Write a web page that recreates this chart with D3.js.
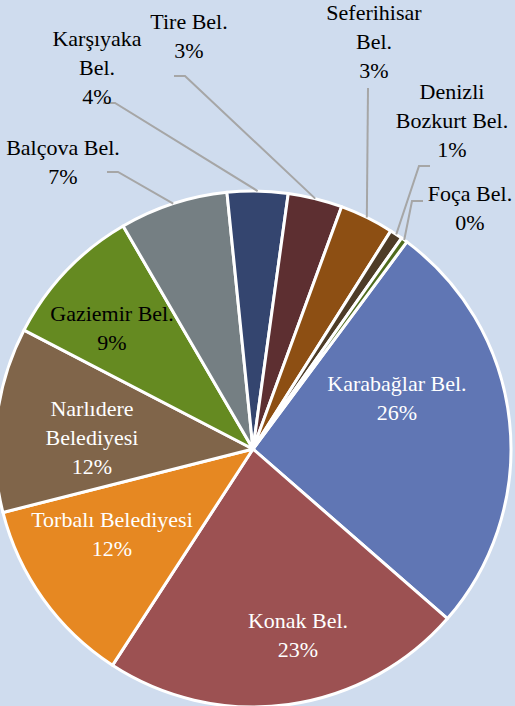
<!DOCTYPE html>
<html>
<head>
<meta charset="utf-8">
<script src="https://cdn.jsdelivr.net/npm/d3@7"></script>
<style>
  html, body { margin: 0; padding: 0; background: #cfdcee; }
  svg { display: block; }
  svg text { font-family: "Liberation Serif", "Times New Roman", serif; font-size: 22px; }
</style>
</head>
<body>
<svg id="chart" width="515" height="706"></svg>
<script>
// ---- data ----
const categories = ["Karabağlar Bel.", "Konak Bel.", "Torbalı Belediyesi", "Narlıdere Belediyesi",
  "Gaziemir Bel.", "Balçova Bel.", "Karşıyaka Bel.", "Tire Bel.", "Seferihisar Bel.",
  "Denizli Bozkurt Bel.", "Foça Bel."];
const values = [26.3, 22.8, 11.9, 11.6, 9.0, 6.8, 3.8, 3.4, 3.4, 0.8, 0.4];
const colors = ["#6076b4", "#9c5152", "#e68822", "#80654a", "#658a21", "#757f83",
  "#34456f", "#5d2f31", "#8d4f13", "#4e3c27", "#4f6b1d"];

// ---- layout (positions only) ----
const W = 515, H = 706;
const cx = 253, cy = 449, R = 258;
const startDeg = 36.6;
const lineH = 29;
// per-slice label layout: text x, first baseline y, wrap split index, fill, leader elbow points
const labelLayout = [
  { x: 397, y: 391, split: null, fill: "#ffffff", leader: null },
  { x: 298, y: 628, split: null, fill: "#ffffff", leader: null },
  { x: 112, y: 527, split: null, fill: "#ffffff", leader: null },
  { x: 92,  y: 416, split: 1,    fill: "#ffffff", leader: null },
  { x: 112, y: 321, split: null, fill: "#000000", leader: null },
  { x: 63,  y: 155, split: null, fill: "#000000", leader: [[107, 172], [118, 172]] },
  { x: 97,  y: 46,  split: 1,    fill: "#000000", leader: [[103, 103], [115, 103]] },
  { x: 189, y: 29,  split: null, fill: "#000000", leader: [[174, 76], [185, 76]] },
  { x: 374, y: 20,  split: 1,    fill: "#000000", leader: [[368, 88]] },
  { x: 452, y: 99,  split: 1,    fill: "#000000", leader: [[430, 166], [419, 166]] },
  { x: 470, y: 201, split: null, fill: "#000000", leader: [[423, 201], [412, 201]] }
];

const svg = d3.select("#chart");
svg.append("rect").attr("width", W).attr("height", H).attr("fill", "#cfdcee");

const total = d3.sum(values);
const start = startDeg * Math.PI / 180;
const pie = d3.pie().sort(null).value(d => d).startAngle(start).endAngle(start + 2 * Math.PI);
const arcs = pie(values);
const arc = d3.arc().innerRadius(0).outerRadius(R);

const g = svg.append("g").attr("transform", `translate(${cx},${cy})`);
g.selectAll("path.slice").data(arcs).join("path")
  .attr("class", "slice")
  .attr("d", arc)
  .attr("fill", (d, i) => colors[i])
  .attr("stroke", "#ffffff")
  .attr("stroke-width", 3)
  .attr("stroke-linejoin", "round");

// leader lines
arcs.forEach((d, i) => {
  const L = labelLayout[i];
  if (!L.leader) return;
  const mid = (d.startAngle + d.endAngle) / 2;
  const ex = cx + R * Math.sin(mid), ey = cy - R * Math.cos(mid);
  const pts = L.leader.concat([[ex, ey]]);
  svg.append("path")
    .attr("d", d3.line()(pts))
    .attr("fill", "none")
    .attr("stroke", "#a6a6a6")
    .attr("stroke-width", 2);
});

// labels
arcs.forEach((d, i) => {
  const L = labelLayout[i];
  const name = categories[i];
  let lines;
  if (L.split !== null) {
    const words = name.split(" ");
    lines = [words.slice(0, L.split).join(" "), words.slice(L.split).join(" ")];
  } else {
    lines = [name];
  }
  lines.push(Math.round(values[i] / total * 100) + "%");
  const t = svg.append("text")
    .attr("text-anchor", "middle")
    .attr("fill", L.fill);
  lines.forEach((ln, k) => {
    t.append("tspan").attr("x", L.x).attr("y", L.y + k * lineH).text(ln);
  });
});
</script>
</body>
</html>
